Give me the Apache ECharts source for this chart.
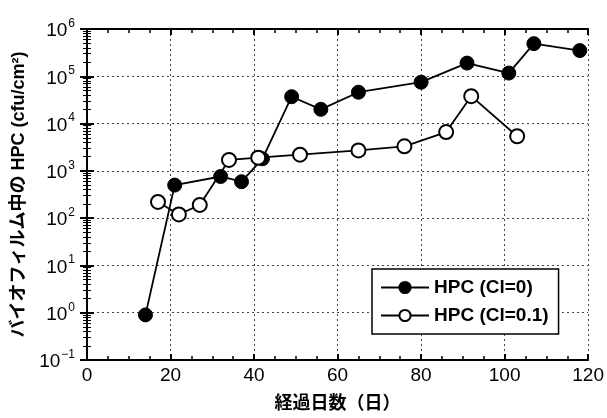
<!DOCTYPE html>
<html>
<head>
<meta charset="utf-8">
<script src="https://cdn.jsdelivr.net/npm/echarts@6/dist/echarts.min.js"></script>
<style>
  html, body { margin: 0; padding: 0; background: #fff; }
  #chart { width: 607px; height: 418px; }
</style>
</head>
<body>
<div id="chart"></div>
<script>
// HPC (Cl=0)
const daysCl0 = [14, 21, 32, 37, 42, 49, 56, 65, 80, 91, 101, 107, 118];
const hpcCl0 = [0.9, 500, 760, 590, 1800, 37000, 20000, 46000, 75000, 190000, 117000, 490000, 350000];
// HPC (Cl=0.1)
const daysCl01 = [17, 22, 27, 34, 41, 51, 65, 76, 86, 92, 103];
const hpcCl01 = [220, 120, 190, 1700, 1900, 2200, 2700, 3300, 6600, 38000, 5400];

const xTicks = [0, 20, 40, 60, 80, 100, 120];
const yExponents = [-1, 0, 1, 2, 3, 4, 5, 6];

const font = '"Liberation Sans", "Noto Sans CJK JP", sans-serif';

const chart = echarts.init(document.getElementById('chart'));

function yLabel(v) {
  const e = Math.round(Math.log10(v));
  if (yExponents.indexOf(e) < 0) return '';
  return '{b|10}{s|' + (e < 0 ? '\u2212' + (-e) : e) + '}';
}

const gridLine = { show: true, lineStyle: { color: '#444', width: 1, type: [2, 3] } };

chart.setOption({
  animation: false,
  textStyle: { fontFamily: font },
  grid: { left: 87, right: 16, top: 29, bottom: 55 },
  legend: {
    left: 372, top: 269,
    orient: 'vertical',
    itemWidth: 48, itemHeight: 14, itemGap: 9,
    padding: [9, 10, 9, 8],
    borderColor: '#000', borderWidth: 1.5,
    backgroundColor: '#fff',
    textStyle: { fontSize: 19, fontWeight: 'bold', color: '#000', fontFamily: font },
    data: ['HPC (Cl=0)', 'HPC (Cl=0.1)']
  },
  xAxis: [{
    type: 'value', min: xTicks[0], max: xTicks[xTicks.length - 1], interval: 20,
    name: '経過日数（日）', nameLocation: 'middle', nameGap: 35,
    nameTextStyle: { fontSize: 18, fontWeight: 'bold', color: '#000' },
    axisLine: { lineStyle: { color: '#000', width: 2 } },
    axisTick: { inside: true, length: 6, lineStyle: { width: 2 } },
    minorTick: { show: true, splitNumber: 4, length: 4, lineStyle: { color: '#000', width: 1.5 } },
    axisLabel: { fontSize: 19, color: '#000', margin: 6, formatter: v => xTicks.indexOf(v) >= 0 ? String(v) : '' },
    splitLine: gridLine
  }, {
    type: 'value', position: 'top', min: 0, max: 120, interval: 20,
    axisLine: { show: true, lineStyle: { color: '#000', width: 2 } },
    axisTick: { inside: true, length: 6, lineStyle: { width: 2 } },
    minorTick: { show: true, splitNumber: 4, length: 4, lineStyle: { color: '#000', width: 1.5 } },
    axisLabel: { show: false }, splitLine: { show: false }
  }],
  yAxis: [{
    type: 'log', logBase: 10, min: 0.1, max: 1e6, interval: 1,
    name: 'バイオフィルム中の HPC (cfu/cm²)', nameLocation: 'middle', nameGap: 56, nameRotate: 90,
    nameTextStyle: { fontSize: 18, fontWeight: 'bold', color: '#000' },
    axisLine: { show: true, lineStyle: { color: '#000', width: 2 } },
    axisTick: { inside: true, length: 7, lineStyle: { width: 2 } },
    minorTick: { show: true, splitNumber: 9, length: 4, lineStyle: { color: '#000', width: 1 } },
    axisLabel: {
      margin: 12, formatter: yLabel,
      rich: {
        b: { fontSize: 19, color: '#000', verticalAlign: 'bottom', fontFamily: font },
        s: { fontSize: 12, color: '#000', verticalAlign: 'bottom', padding: [0, 0, 11, 1], fontFamily: font }
      }
    },
    splitLine: gridLine
  }, {
    type: 'log', logBase: 10, min: 0.1, max: 1e6, interval: 1, position: 'right',
    axisLine: { show: true, lineStyle: { color: '#000', width: 2 } },
    axisTick: { inside: true, length: 7, lineStyle: { width: 2 } },
    minorTick: { show: true, splitNumber: 9, length: 4, lineStyle: { color: '#000', width: 1 } },
    axisLabel: { show: false }, splitLine: { show: false }
  }],
  series: [{
    name: 'HPC (Cl=0)', type: 'line', z: 3,
    data: daysCl0.map((d, i) => [d, hpcCl0[i]]),
    symbol: 'circle', symbolSize: 14,
    lineStyle: { color: '#000', width: 1.8 },
    itemStyle: { color: '#000', borderColor: '#000', borderWidth: 1 }
  }, {
    name: 'HPC (Cl=0.1)', type: 'line', z: 4,
    data: daysCl01.map((d, i) => [d, hpcCl01[i]]),
    symbol: 'circle', symbolSize: 14,
    lineStyle: { color: '#000', width: 1.8 },
    itemStyle: { color: '#fff', borderColor: '#000', borderWidth: 2 }
  }]
});
</script>
</body>
</html>
